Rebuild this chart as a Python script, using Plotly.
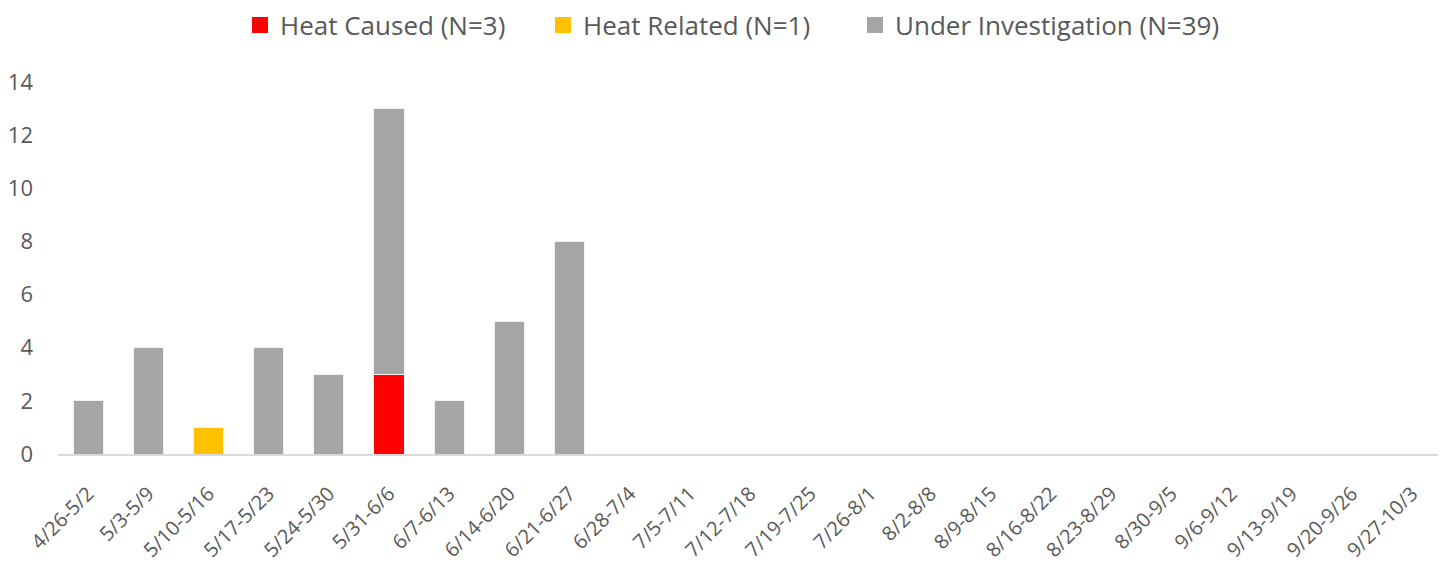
import plotly.graph_objects as go

weeks = ["4/26-5/2", "5/3-5/9", "5/10-5/16", "5/17-5/23", "5/24-5/30", "5/31-6/6",
         "6/7-6/13", "6/14-6/20", "6/21-6/27", "6/28-7/4", "7/5-7/11", "7/12-7/18",
         "7/19-7/25", "7/26-8/1", "8/2-8/8", "8/9-8/15", "8/16-8/22", "8/23-8/29",
         "8/30-9/5", "9/6-9/12", "9/13-9/19", "9/20-9/26", "9/27-10/3"]
heat_caused = [0, 0, 0, 0, 0, 3, 0, 0, 0] + [0] * 14
heat_related = [0, 0, 1, 0, 0, 0, 0, 0, 0] + [0] * 14
under_investigation = [2, 4, 0, 4, 3, 10, 2, 5, 8] + [0] * 14

series = [
    ("Heat Caused (N=3)", heat_caused, "#FF0000"),
    ("Heat Related (N=1)", heat_related, "#FFC000"),
    ("Under Investigation (N=39)", under_investigation, "#A5A5A5"),
]

fig = go.Figure()
for name, vals, color in series:
    fig.add_trace(go.Bar(
        x=weeks, y=vals, name=name, showlegend=False,
        marker=dict(color=color, line=dict(color="#F2F2F2", width=1)),
    ))
# legend entries with larger square swatches, one legend each for exact placement
legend_ids = ["legend", "legend2", "legend3"]
legend_x = [232, 535, 847]
for (name, vals, color), lid in zip(series, legend_ids):
    fig.add_trace(go.Scatter(
        x=[None], y=[None], mode="markers", name=name, legend=lid,
        marker=dict(symbol="square", size=16, color=color),
    ))

font_family = "Open Sans, Liberation Sans, sans-serif"
fig.update_layout(
    barmode="stack",
    bargap=0.5,
    width=1446, height=567,
    margin=dict(l=50, r=12, t=74, b=121),
    plot_bgcolor="white", paper_bgcolor="white",
    font=dict(family=font_family, color="#595959", size=20),
    showlegend=True,
)
for lid, lx in zip(legend_ids, legend_x):
    fig.update_layout({lid: dict(
        orientation="h", xref="container", x=lx / 1446, xanchor="left",
        yref="container", y=1 - 17 / 567, yanchor="middle",
        font=dict(size=26, color="#595959"), itemwidth=30,
        bgcolor="rgba(0,0,0,0)",
    )})
fig.update_xaxes(showline=True, linecolor="#D9D9D9", linewidth=2, tickangle=-45,
                 ticks="", showgrid=False, automargin=False, ticklabelstandoff=18,
                 tickfont=dict(size=20, color="#595959"))
fig.update_yaxes(range=[0, 14], dtick=2, showgrid=False, zeroline=False, showline=False,
                 ticks="", ticklabelstandoff=24, automargin=False,
                 tickfont=dict(size=22, color="#595959"))

fig.write_html("out.html")
